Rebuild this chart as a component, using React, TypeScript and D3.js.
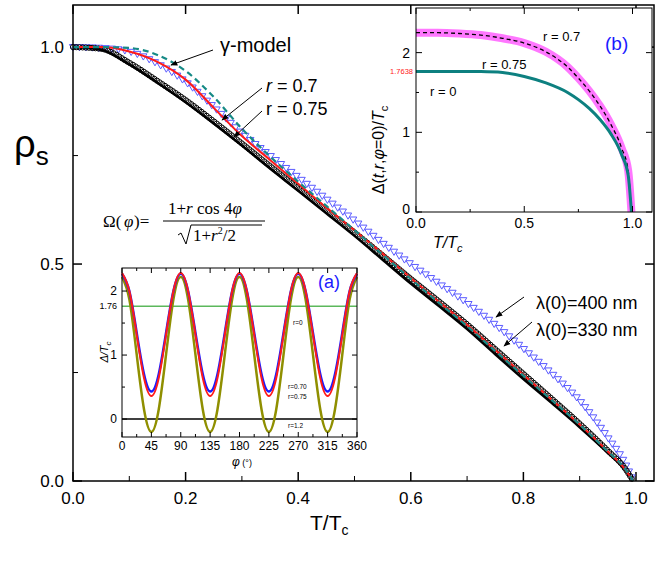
import React, { useEffect, useRef } from 'react';
import * as d3 from 'd3';

// main panel: superfluid density vs T/Tc
const tMain = [0, 0.05, 0.1, 0.15, 0.2, 0.25, 0.3, 0.35, 0.4, 0.45, 0.5, 0.55, 0.6, 0.65, 0.7, 0.75, 0.8, 0.85, 0.9, 0.95, 0.98, 0.995];
const blackLine = [1, 0.994, 0.96, 0.918, 0.873, 0.824, 0.773, 0.72, 0.669, 0.617, 0.565, 0.51, 0.455, 0.403, 0.35, 0.292, 0.235, 0.18, 0.124, 0.065, 0.027, 0];
const circles330 = [1, 0.996, 0.964, 0.922, 0.878, 0.829, 0.778, 0.726, 0.675, 0.624, 0.573, 0.52, 0.466, 0.414, 0.361, 0.304, 0.247, 0.19, 0.132, 0.07, 0.03, 0];
const redR07 = [1, 1, 0.99, 0.966, 0.925, 0.86, 0.795, 0.74, 0.685, 0.63, 0.578, 0.524, 0.468, 0.413, 0.36, 0.302, 0.245, 0.188, 0.13, 0.068, 0.028, 0];
const gammaModel = [1, 1, 0.998, 0.982, 0.945, 0.885, 0.812, 0.748, 0.69, 0.634, 0.578, 0.522, 0.466, 0.411, 0.357, 0.3, 0.243, 0.187, 0.13, 0.068, 0.029, 0];
const tri400 = [1, 0.998, 0.99, 0.962, 0.92, 0.862, 0.802, 0.75, 0.7, 0.65, 0.6, 0.548, 0.5, 0.455, 0.41, 0.36, 0.305, 0.248, 0.185, 0.1, 0.042, 0];
const mainXTicks = [0, 0.2, 0.4, 0.6, 0.8, 1.0];
const mainYTicks = [0, 0.5, 1.0];

// inset (a): gap vs angle, one period sampled every 11.25 deg
const phiStep = 11.25;
const periodBlue = [2.27, 2.0, 1.35, 0.7, 0.43, 0.7, 1.35, 2.0];
const periodRed = [2.28, 2.0, 1.32, 0.64, 0.36, 0.64, 1.32, 2.0];
const periodOlive = [2.22, 1.87, 1.01, 0.15, -0.2, 0.15, 1.01, 1.87];
const aXTicks = [0, 45, 90, 135, 180, 225, 270, 315, 360];
const aYTicks = [0, 1, 2];

// inset (b): gap at phi=0 vs T/Tc
const tB = [0, 0.1, 0.2, 0.3, 0.4, 0.5, 0.6, 0.7, 0.75, 0.8, 0.85, 0.9, 0.95, 0.98, 0.995];
const gapR0 = [1.764, 1.764, 1.764, 1.762, 1.75, 1.7, 1.62, 1.5, 1.41, 1.3, 1.16, 0.98, 0.72, 0.46, 0];
const gapR07 = [2.25, 2.25, 2.24, 2.22, 2.18, 2.12, 2.01, 1.82, 1.68, 1.52, 1.33, 1.1, 0.8, 0.52, 0];
const bXTicks = [0, 0.5, 1.0];
const bYTicks = [0, 1, 2];

const FONT = 'Arial, "Liberation Sans", sans-serif';

function tile(period: number[]) {
  const out: { p: number; v: number }[] = [];
  for (let k = 0; k < 4; k++) period.forEach((v, i) => out.push({ p: (k * 8 + i) * phiStep, v }));
  out.push({ p: 360, v: period[0] });
  return out;
}

export default function App() {
  const ref = useRef<SVGSVGElement>(null);

  useEffect(() => {
    const svg = d3.select(ref.current!);
    svg.selectAll('*').remove();

    const defs = svg.append('defs');
    defs.append('marker').attr('id', 'ah').attr('viewBox', '0 0 10 10').attr('refX', 9).attr('refY', 5)
      .attr('markerWidth', 7).attr('markerHeight', 7).attr('orient', 'auto-start-reverse')
      .append('path').attr('d', 'M0,1 L10,5 L0,9 z').attr('fill', '#000');

    // ---------- main ----------
    const x = d3.scaleLinear().domain([0, 1.032]).range([73, 654]);
    const y = d3.scaleLinear().domain([0, 1.097]).range([481, 5]);
    const g = svg.append('g');

    const mainTicks = (xt: number[], minor: number[]) => {
      minor.forEach(t => {
        g.append('line').attr('x1', x(t)).attr('x2', x(t)).attr('y1', 481).attr('y2', 476).attr('stroke', '#000');
      });
      xt.forEach(t => {
        g.append('line').attr('x1', x(t)).attr('x2', x(t)).attr('y1', 481).attr('y2', 472).attr('stroke', '#000').attr('stroke-width', 1.5);
        g.append('line').attr('x1', x(t)).attr('x2', x(t)).attr('y1', 5).attr('y2', 14).attr('stroke', '#000').attr('stroke-width', 1.5);
        g.append('text').attr('x', x(t)).attr('y', 504).attr('text-anchor', 'middle').attr('font-size', 17).attr('font-family', FONT).text(t.toFixed(1));
      });
    };
    mainTicks(mainXTicks, [0.1, 0.3, 0.5, 0.7, 0.9]);
    [0.25, 0.75].forEach(v => {
      g.append('line').attr('x1', 73).attr('x2', 78).attr('y1', y(v)).attr('y2', y(v)).attr('stroke', '#000');
    });
    mainYTicks.forEach(v => {
      g.append('line').attr('x1', 73).attr('x2', 82).attr('y1', y(v)).attr('y2', y(v)).attr('stroke', '#000').attr('stroke-width', 1.5);
      g.append('line').attr('x1', 654).attr('x2', 645).attr('y1', y(v)).attr('y2', y(v)).attr('stroke', '#000').attr('stroke-width', 1.5);
      g.append('text').attr('x', 64).attr('y', y(v) + 6).attr('text-anchor', 'end').attr('font-size', 17).attr('font-family', FONT).text(v.toFixed(1));
    });

    const mline = (vals: number[]) =>
      d3.line<number>().x((_, i) => x(tMain[i])).y(v => y(v)).curve(d3.curveMonotoneX)(vals)!;

    const markersAlong = (vals: number[], step: number, draw: (px: number, py: number) => void) => {
      const p = g.append('path').attr('d', mline(vals)).attr('fill', 'none').attr('stroke', 'none');
      const node = p.node() as SVGPathElement;
      const L = node.getTotalLength();
      for (let s = 0; s <= L; s += step) {
        const pt = node.getPointAtLength(s);
        draw(pt.x, pt.y);
      }
      p.remove();
    };

    markersAlong(tri400, 6.5, (px, py) => {
      g.append('path').attr('d', `M${px - 3.6},${py - 2.6} L${px + 3.6},${py - 2.6} L${px},${py + 3.6} Z`)
        .attr('fill', 'none').attr('stroke', '#5b5bff').attr('stroke-width', 1);
    });
    g.append('path').attr('d', mline(blackLine)).attr('fill', 'none').attr('stroke', '#000').attr('stroke-width', 2.5);
    markersAlong(circles330, 3.2, (px, py) => {
      g.append('circle').attr('cx', px).attr('cy', py).attr('r', 2.6).attr('fill', 'none').attr('stroke', '#000').attr('stroke-width', 1);
    });
    g.append('path').attr('d', mline(redR07)).attr('fill', 'none').attr('stroke', '#ff1a1a').attr('stroke-width', 2);
    g.append('path').attr('d', mline(gammaModel)).attr('fill', 'none').attr('stroke', '#168a86').attr('stroke-width', 2.2).attr('stroke-dasharray', '6,4');

    g.append('rect').attr('x', 73).attr('y', 5).attr('width', 581).attr('height', 476).attr('fill', 'none').attr('stroke', '#000').attr('stroke-width', 1.5);

    // annotations
    const arrow = (x1: number, y1: number, x2: number, y2: number) =>
      g.append('line').attr('x1', x1).attr('y1', y1).attr('x2', x2).attr('y2', y2).attr('stroke', '#000').attr('stroke-width', 1).attr('marker-end', 'url(#ah)');
    const label = (tx: number, ty: number, size: number) =>
      g.append('text').attr('x', tx).attr('y', ty).attr('font-size', size).attr('font-family', FONT);

    label(220, 52, 20).text('γ-model');
    arrow(213, 50, 171, 65);
    const r1 = label(266, 92, 18);
    r1.append('tspan').attr('font-style', 'italic').text('r');
    r1.append('tspan').text(' = 0.7');
    arrow(262, 88, 222, 120);
    label(266, 115, 18).text('r = 0.75');
    arrow(262, 111, 234, 137);
    label(536, 309, 18).text('λ(0)=400 nm');
    arrow(524, 297, 496, 317);
    label(536, 336, 18).text('λ(0)=330 nm');
    arrow(532, 322, 504, 346);

    // formula
    const ff = '"Liberation Serif", "DejaVu Serif", serif';
    const fm = g.append('g').attr('font-family', ff).attr('font-size', 17);
    fm.append('text').attr('x', 103).attr('y', 227).text('Ω(');
    fm.append('text').attr('x', 124).attr('y', 227).attr('font-style', 'italic').text('φ');
    fm.append('text').attr('x', 134).attr('y', 227).text(')=');
    fm.append('line').attr('x1', 163).attr('x2', 265).attr('y1', 221).attr('y2', 221).attr('stroke', '#000').attr('stroke-width', 1);
    const num = fm.append('text').attr('x', 168).attr('y', 214);
    num.append('tspan').text('1+');
    num.append('tspan').attr('font-style', 'italic').text('r');
    num.append('tspan').text(' cos 4');
    num.append('tspan').attr('font-style', 'italic').text('φ');
    fm.append('path').attr('d', 'M178,235 L181,233 L186,244 L191,225 L262,225').attr('fill', 'none').attr('stroke', '#000').attr('stroke-width', 1);
    const den = fm.append('text').attr('x', 193).attr('y', 241);
    den.append('tspan').text('1+');
    den.append('tspan').attr('font-style', 'italic').text('r');
    den.append('tspan').attr('font-size', 10).attr('dy', -7).text('2');
    den.append('tspan').attr('dy', 7).text('/2');

    // axis titles
    const yl = g.append('text').attr('x', 14).attr('y', 157).attr('font-family', FONT).attr('font-size', 38);
    yl.append('tspan').text('ρ');
    yl.append('tspan').attr('font-size', 26).attr('dy', 8).text('s');
    const xl = g.append('text').attr('x', 310).attr('y', 530).attr('font-family', FONT).attr('font-size', 21);
    xl.append('tspan').text('T/T');
    xl.append('tspan').attr('font-size', 14).attr('dy', 5).text('c');

    // ---------- inset (a) ----------
    const ax = d3.scaleLinear().domain([0, 360]).range([122, 357]);
    const ay = d3.scaleLinear().domain([-0.28, 2.36]).range([437, 268]);
    const ga = svg.append('g');
    ga.append('rect').attr('x', 122).attr('y', 268).attr('width', 235).attr('height', 169).attr('fill', '#fff');
    const aline = d3.line<{ p: number; v: number }>().x(d => ax(d.p)).y(d => ay(d.v)).curve(d3.curveNatural);
    ga.append('line').attr('x1', 122).attr('x2', 357).attr('y1', ay(0)).attr('y2', ay(0)).attr('stroke', '#000').attr('stroke-width', 1.5);
    ga.append('line').attr('x1', 122).attr('x2', 357).attr('y1', ay(1.7638)).attr('y2', ay(1.7638)).attr('stroke', '#5cb85c').attr('stroke-width', 1.5);
    ga.append('path').attr('d', aline(tile(periodOlive))!).attr('fill', 'none').attr('stroke', '#8f8f00').attr('stroke-width', 2.5);
    ga.append('path').attr('d', aline(tile(periodBlue))!).attr('fill', 'none').attr('stroke', '#1a1aff').attr('stroke-width', 2.5);
    ga.append('path').attr('d', aline(tile(periodRed))!).attr('fill', 'none').attr('stroke', '#ff1a1a').attr('stroke-width', 2);
    ga.append('rect').attr('x', 122).attr('y', 268).attr('width', 235).attr('height', 169).attr('fill', 'none').attr('stroke', '#000').attr('stroke-width', 1);
    aXTicks.forEach(t => {
      ga.append('line').attr('x1', ax(t)).attr('x2', ax(t)).attr('y1', 437).attr('y2', 432).attr('stroke', '#000');
      ga.append('line').attr('x1', ax(t)).attr('x2', ax(t)).attr('y1', 268).attr('y2', 273).attr('stroke', '#000');
      ga.append('text').attr('x', ax(t)).attr('y', 450).attr('text-anchor', 'middle').attr('font-size', 12).attr('font-family', FONT).text(t);
    });
    d3.range(22.5, 360, 45).forEach(t => {
      ga.append('line').attr('x1', ax(t)).attr('x2', ax(t)).attr('y1', 437).attr('y2', 434).attr('stroke', '#000');
      ga.append('line').attr('x1', ax(t)).attr('x2', ax(t)).attr('y1', 268).attr('y2', 271).attr('stroke', '#000');
    });
    aYTicks.forEach(v => {
      ga.append('line').attr('x1', 122).attr('x2', 127).attr('y1', ay(v)).attr('y2', ay(v)).attr('stroke', '#000');
      ga.append('line').attr('x1', 357).attr('x2', 352).attr('y1', ay(v)).attr('y2', ay(v)).attr('stroke', '#000');
      ga.append('text').attr('x', 117).attr('y', ay(v) + 4).attr('text-anchor', 'end').attr('font-size', 12).attr('font-family', FONT).text(v);
    });
    [0.5, 1.5].forEach(v => {
      ga.append('line').attr('x1', 122).attr('x2', 125).attr('y1', ay(v)).attr('y2', ay(v)).attr('stroke', '#000');
      ga.append('line').attr('x1', 357).attr('x2', 354).attr('y1', ay(v)).attr('y2', ay(v)).attr('stroke', '#000');
    });
    ga.append('text').attr('x', 117).attr('y', ay(1.76) + 3).attr('text-anchor', 'end').attr('font-size', 9).attr('font-family', FONT).text('1.76');
    const aT = ga.append('text').attr('transform', 'translate(108,352) rotate(-90)').attr('text-anchor', 'middle').attr('font-size', 11).attr('font-family', FONT).attr('font-style', 'italic');
    aT.append('tspan').text('Δ/T');
    aT.append('tspan').attr('font-size', 8).attr('dy', 3).text('c');
    const aXT = ga.append('text').attr('x', 232).attr('y', 466).attr('font-size', 12).attr('font-family', FONT);
    aXT.append('tspan').attr('font-style', 'italic').text('φ');
    aXT.append('tspan').attr('font-size', 9).text(' (°)');
    ga.append('text').attr('x', 318).attr('y', 288).attr('font-size', 18).attr('font-family', FONT).attr('fill', '#1a1aff').text('(a)');
    const small = (tx: number, ty: number, s: string) =>
      ga.append('text').attr('x', tx).attr('y', ty).attr('font-size', 6.5).attr('font-family', FONT).text(s);
    small(293, 325, 'r=0');
    arrow(300, 317, 300, 306);
    small(288, 389, 'r=0.70');
    arrow(311, 387, 325, 391);
    small(288, 399, 'r=0.75');
    arrow(311, 397, 320, 397);
    small(288, 428, 'r=1.2');
    arrow(306, 426, 322, 427);

    // ---------- inset (b) ----------
    const bx = d3.scaleLinear().domain([0, 1.09]).range([416, 652]);
    const by = d3.scaleLinear().domain([0, 2.56]).range([212, 8]);
    const gb = svg.append('g');
    gb.append('rect').attr('x', 416).attr('y', 8).attr('width', 236).attr('height', 204).attr('fill', '#fff');
    const bline = (vals: number[]) =>
      d3.line<number>().x((_, i) => bx(tB[i])).y(v => by(v)).curve(d3.curveMonotoneX)(vals)!;
    gb.append('path').attr('d', bline(gapR07)).attr('fill', 'none').attr('stroke', '#ff77ff').attr('stroke-width', 8);
    gb.append('path').attr('d', bline(gapR07)).attr('fill', 'none').attr('stroke', '#000').attr('stroke-width', 1.3).attr('stroke-dasharray', '4,3');
    gb.append('path').attr('d', bline(gapR0)).attr('fill', 'none').attr('stroke', '#0d8080').attr('stroke-width', 3);
    gb.append('rect').attr('x', 416).attr('y', 8).attr('width', 236).attr('height', 204).attr('fill', 'none').attr('stroke', '#000').attr('stroke-width', 1);
    bXTicks.forEach(t => {
      gb.append('line').attr('x1', bx(t)).attr('x2', bx(t)).attr('y1', 212).attr('y2', 206).attr('stroke', '#000');
      gb.append('line').attr('x1', bx(t)).attr('x2', bx(t)).attr('y1', 8).attr('y2', 14).attr('stroke', '#000');
      gb.append('text').attr('x', bx(t)).attr('y', 228).attr('text-anchor', 'middle').attr('font-size', 14).attr('font-family', FONT).text(t.toFixed(1));
    });
    [0.25, 0.75].forEach(t => {
      gb.append('line').attr('x1', bx(t)).attr('x2', bx(t)).attr('y1', 212).attr('y2', 209).attr('stroke', '#000');
      gb.append('line').attr('x1', bx(t)).attr('x2', bx(t)).attr('y1', 8).attr('y2', 11).attr('stroke', '#000');
    });
    bYTicks.forEach(v => {
      gb.append('line').attr('x1', 416).attr('x2', 422).attr('y1', by(v)).attr('y2', by(v)).attr('stroke', '#000');
      gb.append('line').attr('x1', 652).attr('x2', 646).attr('y1', by(v)).attr('y2', by(v)).attr('stroke', '#000');
      gb.append('text').attr('x', 410).attr('y', by(v) + (v === 0 ? 2 : 5)).attr('text-anchor', 'end').attr('font-size', 14).attr('font-family', FONT).text(v);
    });
    [0.5, 1.5].forEach(v => {
      gb.append('line').attr('x1', 416).attr('x2', 419).attr('y1', by(v)).attr('y2', by(v)).attr('stroke', '#000');
      gb.append('line').attr('x1', 652).attr('x2', 649).attr('y1', by(v)).attr('y2', by(v)).attr('stroke', '#000');
    });
    gb.append('text').attr('x', 413).attr('y', by(1.7638) + 3).attr('text-anchor', 'end').attr('font-size', 7.5).attr('font-family', FONT).attr('fill', '#ff2020').text('1.7638');
    const bT = gb.append('text').attr('transform', 'translate(384,150) rotate(-90)').attr('text-anchor', 'middle').attr('font-size', 16).attr('font-family', FONT);
    bT.append('tspan').text('Δ(');
    bT.append('tspan').attr('font-style', 'italic').text('t');
    bT.append('tspan').text(',');
    bT.append('tspan').attr('font-style', 'italic').text('r');
    bT.append('tspan').text(',');
    bT.append('tspan').attr('font-style', 'italic').text('φ');
    bT.append('tspan').text('=0)/');
    bT.append('tspan').attr('font-style', 'italic').text('T');
    bT.append('tspan').attr('font-size', 11).attr('dy', 4).text('c');
    const bXT = gb.append('text').attr('x', 433).attr('y', 248).attr('font-size', 16).attr('font-family', FONT).attr('font-style', 'italic');
    bXT.append('tspan').text('T/T');
    bXT.append('tspan').attr('font-size', 11).attr('dy', 4).text('c');
    gb.append('text').attr('x', 430).attr('y', 96).attr('font-size', 13).attr('font-family', FONT).text('r = 0');
    gb.append('text').attr('x', 482).attr('y', 69).attr('font-size', 13).attr('font-family', FONT).text('r = 0.75');
    arrow(506, 54, 507, 42);
    gb.append('text').attr('x', 543).attr('y', 41).attr('font-size', 13).attr('font-family', FONT).text('r = 0.7');
    arrow(555, 39, 546, 53);
    gb.append('text').attr('x', 605).attr('y', 50).attr('font-size', 19).attr('font-family', FONT).attr('fill', '#1a1aff').text('(b)');
  }, []);

  return (
    <svg
      ref={ref}
      width={656}
      height={564}
      style={{ position: 'absolute', left: 0, top: 0, display: 'block', background: '#fff' }}
    />
  );
}
